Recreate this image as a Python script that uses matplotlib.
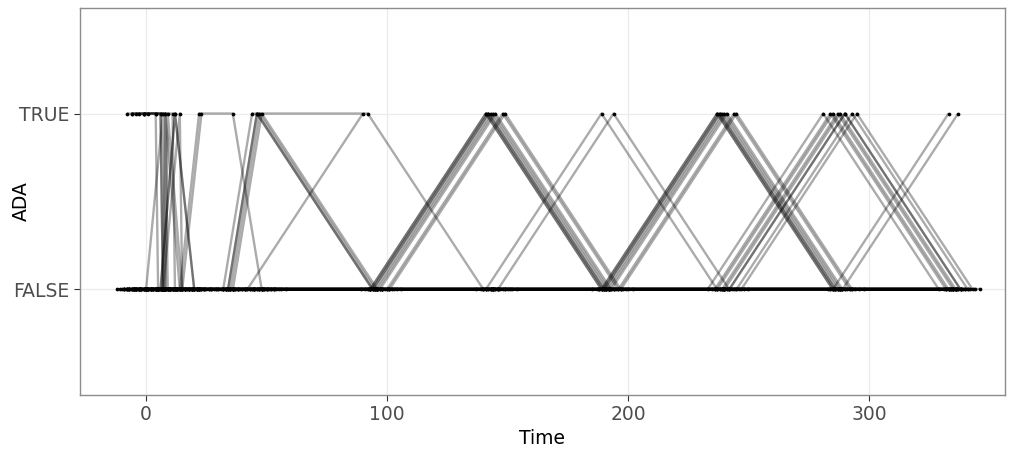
import matplotlib
matplotlib.use("Agg")
import matplotlib.pyplot as plt

# nominal visit days (pre-dose, dosing, follow-up)
visit_day = [-5, 0, 7, 8, 14, 22, 36, 48, 96, 144, 192, 240, 288, 336]

# ADA result per visit for each subject (T = TRUE, F = FALSE, . = no sample)
ada_profile = [
    # alternating responders, positive at 144 / 240
    "FFFFFFFTFTFTFF",
    "FFFFFFFTFTFTFF",
    "FFFFFFFTFTFTFF",
    "FFFFFFFFFTFTFT",
    "TTTFFFFFFTFTFF",
    "TTTFFFFFFTFTFF",
    "FFFTFFFFFTFTFT",
    "FFFFTFFTFTFTFF",
    "FFFFFFFFFTFTF.",
    # positive at 288 only
    "FFFFFFFFFFFFTF",
    "FFFFFFFFFFFFTF",
    "TTTFFFFFFFFFTF",
    "FFFFFFFFFFFFTF",
    "FFFFFFFFFFFFTF",
    "FFFFFFFFFFFFTF",
    "FFTFFFFFFFFFTF",
    # positive at 192 / 288
    "FFFFFFFFFFTFTF",
    "FFFFFFFFFFTFTF",
    # early responders
    "FFFFFFFTTFFFFF",
    "FFFFFFFFT.....",
    "FFFFFTTFFFFFFF",
    "FFFFFT........",
    "FFFFTFFFFFFFFF",
    "TTTFFFFFFFFFFF",
    "FFTFFFFFFFFFFF",
    "TTTFFFFFFFFFFF",
    "FFFTFFFFFFFFFF",
    # never positive
    "FFFFFFFFFFFFFF",
    "FFFFFFFFFFFFFF",
    "FFFFFFFFFFFFFF",
    "FFFFFFFFFFFFFF",
    "FFFFFFFFFFFFFF",
    "FFFFFFFFFFFFFF",
    "FFFFFFFFFFFFFF",
    "FFFFFFFFFFFFFF",
    "FFFFFFFFFFFFFF",
    "FFFFFFFFFFFFFF",
    "FFFFFFFFFFFFFF",
    "FFFFFFFFFFFFFF",
    "FFFFFFFFFFFFFF",
    "FFFFFFFFFFFFFF",
    "FFFFFFFFFFFFFF",
    "FFFFFFFFFFFFFF",
    ".F.F.F.FFFFFFF",
    ".F.F.F.FFFFFFF",
]

# days each subject's visits were off the nominal schedule
day_offset = [
    -2, 0, -1, -3, 4, -3, 1, -2, 5,
    -7, -4, -1, 0, 2, 5, 7,
    -3, 2,
    -4, -6, 0, 1, -2, 1, 0, -1, 0,
    -5, -4, -3, -2, -1, 0, 1, 2, 3, 4, 5, 6, -3, 2, -1, 0, 8, 10,
]

ada_levels = ["FALSE", "TRUE"]

fig = plt.figure(figsize=(10.13, 4.58), dpi=100)
ax = fig.add_axes([0.079, 0.1376, 0.913, 0.845])

for prof, off in zip(ada_profile, day_offset):
    t = [d + off for d, s in zip(visit_day, prof) if s != "."]
    y = [1 if s == "T" else 0 for s in prof if s != "."]
    ax.plot(t, y, color="black", alpha=0.33, lw=1.7, solid_capstyle="butt", zorder=2)
    ax.plot(t, y, ls="none", marker="o", ms=2.7, color="black", mec="none", zorder=3)

ax.set_xlim(-27.4, 356.4)
ax.set_ylim(-0.6, 1.6)
ax.set_yticks([0, 1])
ax.set_yticklabels(ada_levels)
ax.set_xticks([0, 100, 200, 300])
ax.set_xlabel("Time", fontsize=13.5, color="black", labelpad=3)
ax.set_ylabel("ADA", fontsize=13.5, color="black")
ax.yaxis.set_label_coords(-0.053, 0.5)
ax.tick_params(labelsize=13.5, labelcolor="#4d4d4d", color="#333333", length=4, width=0.8)
ax.grid(True, color="#ebebeb", lw=0.9)
ax.set_axisbelow(True)
for sp in ax.spines.values():
    sp.set_color("#8c8c8c")
    sp.set_linewidth(1.0)

fig.savefig("out.png", dpi=100)
